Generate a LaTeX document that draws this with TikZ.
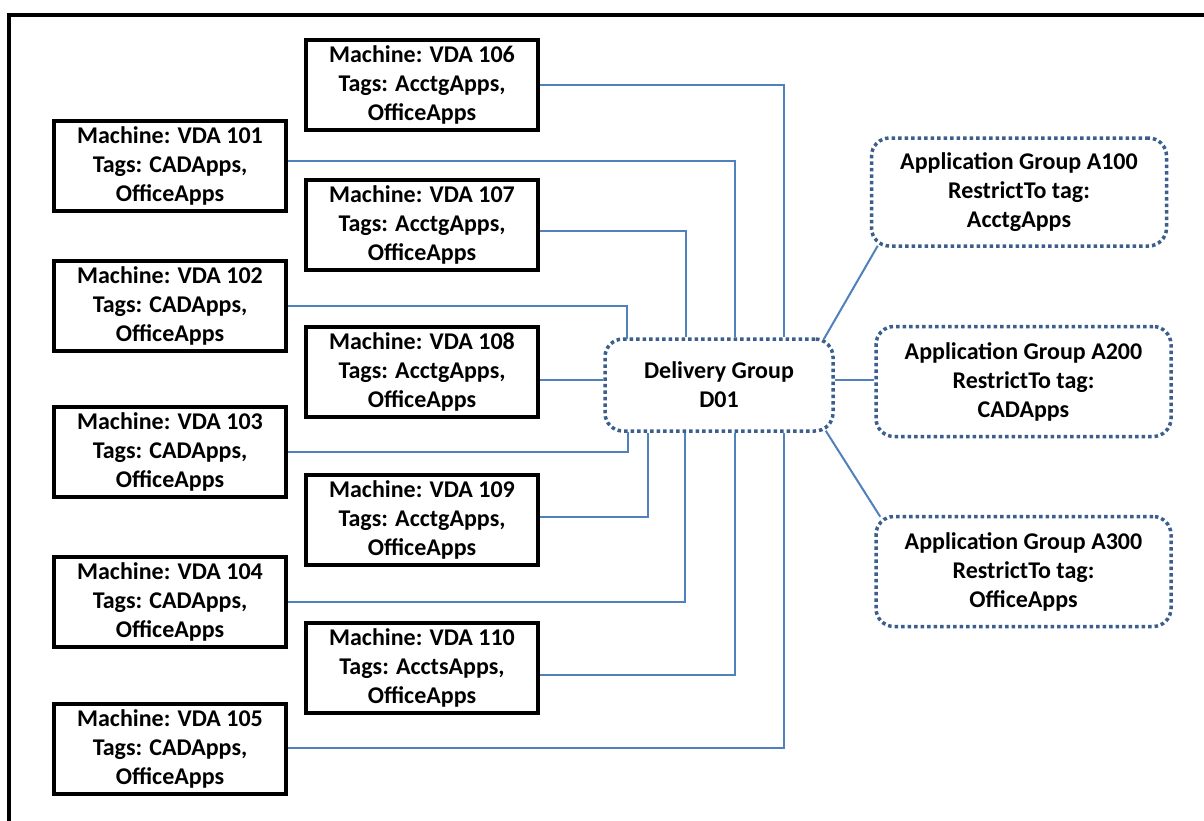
\documentclass[tikz,border=0pt]{standalone}
\usepackage{fontspec}
\setmainfont{Carlito}
\definecolor{linkblue}{HTML}{4F81BD}
\definecolor{dotblue}{HTML}{3B5E8C}
\begin{document}
\begin{tikzpicture}[x=1pt,y=-1pt,
  txt/.style={font=\fontsize{24}{29}\selectfont\bfseries, align=center, inner sep=0pt},
  machine/.style={txt, draw=black, line width=4pt, minimum width=232pt, minimum height=90pt},
  group/.style={txt, draw=dotblue, line width=3.5pt, dash pattern=on 3.5pt off 3pt, rounded corners=18pt},
  link/.style={draw=linkblue, line width=2pt}]
\useasboundingbox (0,0) rectangle (1204,820);
\fill[white] (0,0) rectangle (1204,820);
\draw[line width=4pt] (9,15) rectangle (1230,850);

% left column
\node[machine] (m101) at (170,165.5) {Machine: VDA 101\\Tags: CADApps,\\OfficeApps};
\node[machine] (m102) at (170,306) {Machine: VDA 102\\Tags: CADApps,\\OfficeApps};
\node[machine] (m103) at (170,452) {Machine: VDA 103\\Tags: CADApps,\\OfficeApps};
\node[machine] (m104) at (170,601.5) {Machine: VDA 104\\Tags: CADApps,\\OfficeApps};
\node[machine] (m105) at (170,749) {Machine: VDA 105\\Tags: CADApps,\\OfficeApps};
% middle column
\node[machine] (m106) at (422,85) {Machine: VDA 106\\Tags: AcctgApps,\\OfficeApps};
\node[machine] (m107) at (422,225) {Machine: VDA 107\\Tags: AcctgApps,\\OfficeApps};
\node[machine] (m108) at (422,371.5) {Machine: VDA 108\\Tags: AcctgApps,\\OfficeApps};
\node[machine] (m109) at (422,519.5) {Machine: VDA 109\\Tags: AcctgApps,\\OfficeApps};
\node[machine] (m110) at (422,667.5) {Machine: VDA 110\\Tags: AcctsApps,\\OfficeApps};

% delivery group
\node[group, minimum width=228pt, minimum height=92pt] (dg) at (719,385) {Delivery Group\\D01};

% application groups
\node[group, minimum width=295pt, minimum height=108pt] (a100) at (1019,192) {Application Group A100\\RestrictTo tag:\\AcctgApps};
\node[group, minimum width=295pt, minimum height=110pt] (a200) at (1023.5,381.5) {Application Group A200\\RestrictTo tag:\\CADApps};
\node[group, minimum width=295pt, minimum height=110pt] (a300) at (1023.5,571.5) {Application Group A300\\RestrictTo tag:\\OfficeApps};

% connectors above
\draw[link] (m106.east) -| ([xshift=65]dg.north);
\draw[link] ([yshift=5]m101.east) -| ([xshift=16]dg.north);
\draw[link] ([yshift=-6]m107.east) -| ([xshift=-33]dg.north);
\draw[link] (m102.east) -| ([xshift=-92,yshift=-2]dg.north);
\draw[link] ([yshift=-8]m108.east) -- ([yshift=-8]m108.east -| dg.west);
% connectors below
\draw[link] (m103.east) -| ([xshift=-91,yshift=1]dg.south);
\draw[link] ([yshift=3]m109.east) -| ([xshift=-71]dg.south);
\draw[link] (m104.east) -| ([xshift=-34]dg.south);
\draw[link] ([yshift=-7]m110.east) -| ([xshift=16]dg.south);
\draw[link] ([yshift=1]m105.east) -| ([xshift=65]dg.south);
% to application groups
\draw[link] ([xshift=-11,yshift=-2]dg.north east) -- ([xshift=8,yshift=2]a100.south west);
\draw[link] ([yshift=5]dg.east) -- ([yshift=5]dg.east -| a200.west);
\draw[link] ([xshift=-9,yshift=2]dg.south east) -- ([xshift=6,yshift=-2]a300.north west);
\end{tikzpicture}
\end{document}
